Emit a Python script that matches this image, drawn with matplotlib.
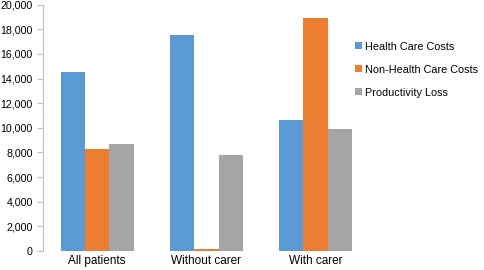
import matplotlib.pyplot as plt
import numpy as np

plt.rcParams['font.family'] = ['Liberation Sans', 'DejaVu Sans']

groups = ["All patients", "Without carer", "With carer"]
series = ["Health Care Costs", "Non-Health Care Costs", "Productivity Loss"]
health_care = [14500, 17500, 10600]
non_health_care = [8300, 200, 18950]
productivity = [8700, 7800, 9900]
colors = ["#5B9BD5", "#ED7D31", "#A5A5A5"]

fig = plt.figure(figsize=(4.85, 2.7), dpi=100)
ax = fig.add_axes([0.088, 0.070, 0.675, 0.913])

x = np.arange(len(groups))
w = 0.223
for i, (vals, name) in enumerate(zip([health_care, non_health_care, productivity], series)):
    ax.bar(x + (i - 1) * w, vals, w, color=colors[i], label=name)

ax.set_xlim(-0.5, 2.5)
ax.set_ylim(0, 20000)
ax.set_yticks(np.arange(0, 20001, 2000))
ax.set_yticklabels([f"{v:,}" for v in range(0, 20001, 2000)])
ax.set_xticks(x)
ax.set_xticklabels(groups)

for s in ["top", "right", "bottom"]:
    ax.spines[s].set_visible(False)
ax.spines["left"].set_color("#BFBFBF")
ax.tick_params(axis="y", colors="#BFBFBF", labelcolor="black", labelsize=7.7, length=4, pad=3)
ax.tick_params(axis="x", length=0, labelsize=8.5, pad=3)

ax.legend(loc="upper left", bbox_to_anchor=(0.954, 0.85), frameon=False, fontsize=7.8,
          borderpad=0, borderaxespad=0,
          handlelength=0.65, handleheight=0.65, handletextpad=0.3, labelspacing=1.2)

fig.savefig("out.png")
